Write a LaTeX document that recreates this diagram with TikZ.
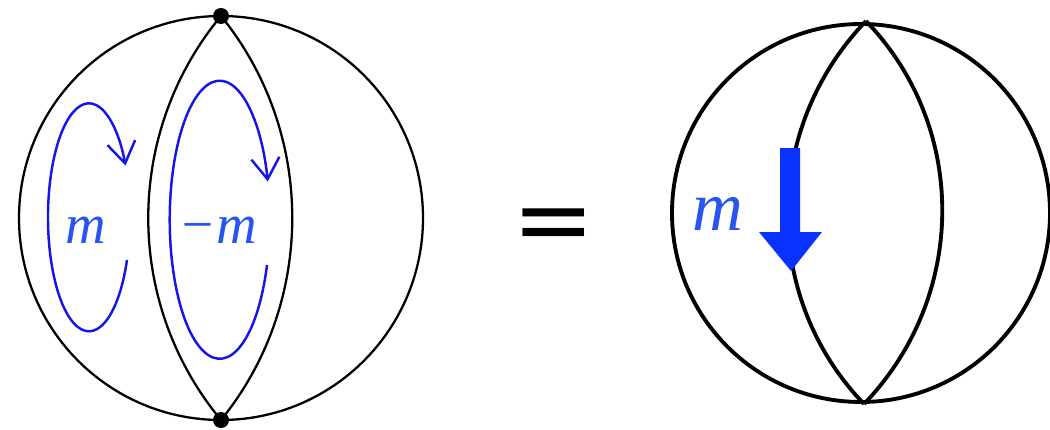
\documentclass[tikz,border=0pt]{standalone}
\usepackage{fontspec}
\setmainfont{Liberation Serif}
\newfontfamily\eqfont{DejaVu Sans}
\usepackage{tikz}
\usetikzlibrary{arrows.meta}
\tikzset{>={Straight Barb[length=12pt,width=16pt]}}
\definecolor{loopblue}{RGB}{20,20,235}
\definecolor{labelblue}{RGB}{40,85,240}
\definecolor{fluxblue}{RGB}{10,50,255}

\begin{document}
\begin{tikzpicture}[x=.02cm,y=-.02cm,
  thinedge/.style={line width=1.3pt},
  thickedge/.style={line width=2.2pt},
  looparrow/.style={loopblue,line width=1.4pt,->},
  lbl/.style={labelblue,inner sep=0pt,font=\fontsize{32}{36}\selectfont\itshape}]
  \useasboundingbox (0,0) rectangle (1050,429);

  % Left sphere with two marked points
  \coordinate (lc) at (221,218);
  \coordinate (ltop) at (221,16);
  \coordinate (lbot) at (221,420);
  \draw[thinedge] (lc) circle (202);
  \draw[thinedge] (ltop) .. controls (124,133) and (124,303) .. (lbot);
  \draw[thinedge] (ltop) .. controls (316,133) and (316,303) .. (lbot);
  \fill (ltop) circle (8);  \fill (lbot) circle (8);

  % Loops with their labels
  \draw[looparrow] (127,260) arc[start angle=22,end angle=333,x radius=41,y radius=114];
  \draw[looparrow] (267,265) arc[start angle=19,end angle=344,x radius=50,y radius=139];
  \node[lbl] (mleft) at (86,230) {m};
  \node[lbl] (mmid) at (218,230) {−m};

  \node[inner sep=0pt,font=\fontsize{56}{60}\eqfont] (eq) at (554,231) {=};

  % Right sphere
  \coordinate (rc) at (861,213);
  \coordinate (rtop) at (866,21);
  \coordinate (rbot) at (864,404);
  \draw[thickedge] (rc) circle (189);
  \draw[thickedge] (rtop) .. controls (763,128) and (761,297) .. (rbot);
  \draw[thickedge] (rtop) .. controls (969,128) and (967,297) .. (rbot);

  % Flux arrow
  \fill[fluxblue] (780,148) -- (800,148) -- (800,232) -- (822,232) -- (791,271)
    -- (759,232) -- (780,232) -- cycle;
  \node[lbl,font=\fontsize{40}{44}\selectfont\itshape] (mright) at (718,214) {m};
\end{tikzpicture}
\end{document}
